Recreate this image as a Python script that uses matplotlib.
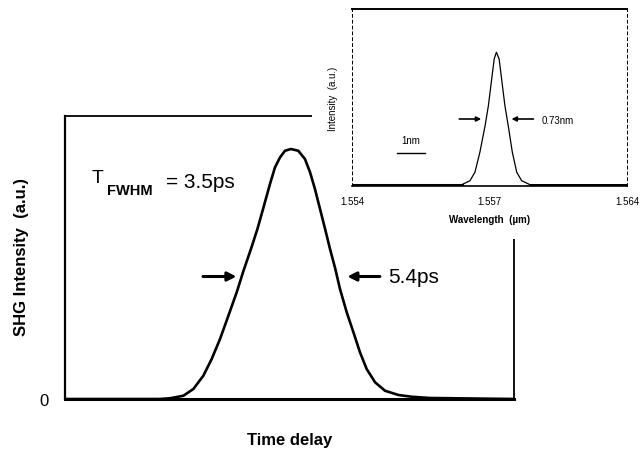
import numpy as np
import matplotlib
matplotlib.use('Agg')
import matplotlib.pyplot as plt
from matplotlib.patches import Rectangle

plt.rcParams['font.family'] = ['Liberation Sans', 'DejaVu Sans']

# main autocorrelation trace (time delay in ps, normalized SHG intensity)
delay_ps = [0.0, 5.23, 5.79, 6.52, 7.07, 7.62, 8.08, 8.54, 9.00, 9.46, 9.82,
            10.29, 10.60, 10.93, 11.30, 11.57, 11.85, 12.12, 12.45, 12.85, 13.22,
            13.50, 13.77, 14.05, 14.33, 14.60, 14.88, 15.15, 15.52, 15.89, 16.25,
            16.62, 17.08, 17.63, 18.37, 19.10, 20.11, 24.74]
shg = [0.0, 0.0, 0.003, 0.013, 0.04, 0.093, 0.16, 0.24, 0.333, 0.427, 0.51,
       0.61, 0.68, 0.765, 0.862, 0.927, 0.967, 0.993, 1.0, 0.993, 0.96,
       0.907, 0.84, 0.76, 0.68, 0.60, 0.524, 0.44, 0.347, 0.267, 0.187,
       0.12, 0.067, 0.033, 0.016, 0.009, 0.004, 0.0]

# inset spectrum (wavelength in um, normalized intensity)
wl_um = [1.55400, 1.55799, 1.55829, 1.55847, 1.55865, 1.55884, 1.55896, 1.55908,
         1.55917, 1.55925, 1.55935, 1.55944, 1.55956, 1.55968, 1.55983, 1.55999,
         1.56017, 1.56047, 1.56400]
spec = [0.0, 0.0, 0.03, 0.094, 0.245, 0.446, 0.597, 0.798,
        0.949, 1.0, 0.949, 0.798, 0.597, 0.446, 0.245, 0.094,
        0.03, 0.0, 0.0]
wl_ticks = [1.554, 1.559, 1.564]
wl_ticklabels = ['1.554', '1.557', '1.564']

fig = plt.figure(figsize=(6.4, 4.56), dpi=100)

# ---- main axes
ax = fig.add_axes([0.1016, 0.1228, 0.7016, 0.6206])
ax.plot(delay_ps, shg, color='black', lw=1.9, solid_joinstyle='round',
        solid_capstyle='round')
ax.set_xlim(0, 24.74)
ax.set_ylim(0, 1.132)
ax.set_xticks([])
ax.set_yticks([0])
ax.set_yticklabels(['0'], fontsize=12)
ax.tick_params(axis='y', length=0, pad=12)
ax.spines['left'].set_linewidth(1.6)
ax.spines['bottom'].set_linewidth(2.2)
ax.spines['top'].set_linewidth(1.3)
ax.spines['right'].set_linewidth(1.3)
ax.set_ylabel('SHG Intensity  (a.u.)', fontsize=12, fontweight='bold')
ax.yaxis.set_label_coords(-0.08, 0.505)
ax.set_xlabel('Time delay', fontsize=12, fontweight='bold', labelpad=24)

fig.text(0.1438, 0.5987, 'T', fontsize=14, va='baseline')
fig.text(0.1672, 0.5724, 'FWHM', fontsize=10.5, fontweight='bold', va='baseline')
fig.text(0.2600, 0.5877, '= 3.5ps', fontsize=15, va='baseline')

ax.annotate('', xy=(9.6, 0.49), xytext=(7.45, 0.49),
            arrowprops=dict(arrowstyle='-|>', lw=2.2, color='black', mutation_scale=13))
ax.annotate('', xy=(15.4, 0.49), xytext=(17.5, 0.49),
            arrowprops=dict(arrowstyle='-|>', lw=2.2, color='black', mutation_scale=13))
ax.text(17.8, 0.49, '5.4ps', fontsize=15, va='center')

# white patches hiding the main frame behind the inset
fig.add_artist(Rectangle((0.4875, 0.7259), 0.52, 0.28, transform=fig.transFigure,
                         facecolor='white', edgecolor='none', zorder=0.5))
fig.add_artist(Rectangle((0.539, 0.4737), 0.47, 0.53, transform=fig.transFigure,
                         facecolor='white', edgecolor='none', zorder=0.5))

# ---- inset spectrum
ins = fig.add_axes([0.55, 0.5899, 0.4297, 0.388], zorder=1)
ins.plot(wl_um, spec, color='black', lw=0.9)
ins.plot([1.5540, 1.5580], [0, 0], color='black', lw=2.2)
ins.plot([1.5605, 1.5640], [0, 0], color='black', lw=2.0)
ins.set_xlim(1.554, 1.564)
ins.set_ylim(-0.01, 1.326)
ins.set_xticks(wl_ticks)
ins.set_xticklabels(wl_ticklabels, fontsize=7)
ins.tick_params(axis='x', length=0, pad=7)
ins.set_yticks([])
ins.spines['left'].set_linestyle((0, (3, 3)))
ins.spines['left'].set_linewidth(0.7)
ins.spines['right'].set_linestyle((0, (3, 3)))
ins.spines['right'].set_linewidth(0.7)
ins.spines['top'].set_linewidth(1.4)
ins.spines['bottom'].set_linewidth(1.2)
ins.set_xlabel('Wavelength  (\u00b5m)', fontsize=7, fontweight='bold', labelpad=6)
ins.set_ylabel('Intensity  (a.u.)', fontsize=7, labelpad=10)

ins.plot([1.55564, 1.55666], [0.242, 0.242], color='black', lw=1.0)
ins.text(1.55615, 0.3, '1nm', fontsize=7, ha='center', va='bottom')
ins.annotate('', xy=(1.5588, 0.496), xytext=(1.5578, 0.496),
             arrowprops=dict(arrowstyle='-|>', lw=1.2, color='black', mutation_scale=7))
ins.annotate('', xy=(1.5597, 0.496), xytext=(1.5607, 0.496),
             arrowprops=dict(arrowstyle='-|>', lw=1.2, color='black', mutation_scale=7))
ins.text(1.5609, 0.49, '0.73nm', fontsize=7, va='center')

fig.savefig('out.png', dpi=100)
plt.close(fig)
